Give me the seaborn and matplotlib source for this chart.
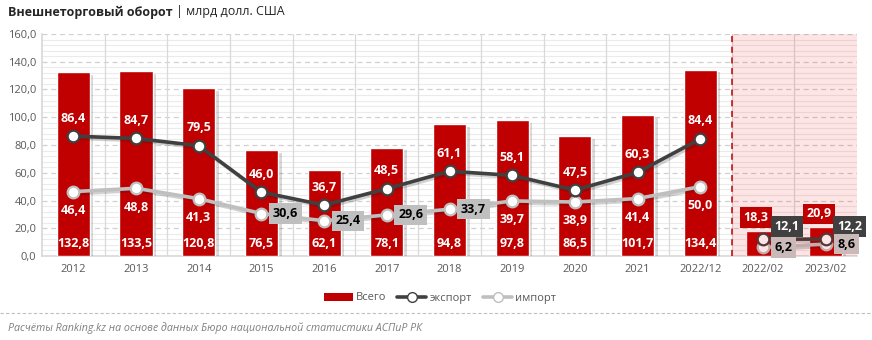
import numpy as np
import pandas as pd
import matplotlib
matplotlib.use("Agg")
import matplotlib.pyplot as plt
import matplotlib.patheffects as pe
from matplotlib.lines import Line2D
from matplotlib.patches import Patch
from matplotlib.ticker import MultipleLocator, FuncFormatter
import seaborn as sns

# Data: foreign trade turnover of Kazakhstan, bn USD
periods = ["2012", "2013", "2014", "2015", "2016", "2017", "2018", "2019",
           "2020", "2021", "2022/12", "2022/02", "2023/02"]
total = [132.8, 133.5, 120.8, 76.5, 62.1, 78.1, 94.8, 97.8, 86.5, 101.7, 134.4, 18.3, 20.9]
export = [86.4, 84.7, 79.5, 46.0, 36.7, 48.5, 61.1, 58.1, 47.5, 60.3, 84.4, 12.1, 12.2]
imports = [46.4, 48.8, 41.3, 30.6, 25.4, 29.6, 33.7, 39.7, 38.9, 41.4, 50.0, 6.2, 8.6]

sns.set_theme(style="white")
plt.rcParams["font.family"] = ["Open Sans", "DejaVu Sans"]

RED = "#C00000"
DARK = "#404040"
LIGHT = "#BFBFBF"
TXT = "#595959"

df = pd.DataFrame({"period": periods, "total": total, "export": export, "import": imports})
df["x"] = np.arange(len(df))

fig = plt.figure(figsize=(8.72, 3.40), dpi=100)
ax = fig.add_axes([42 / 872, 1 - 256 / 340, (857 - 42) / 872, (256 - 34) / 340])

# bars with a soft drop shadow
sns.barplot(data=df, x="period", y="total", color=RED, width=0.53, saturation=1,
            ax=ax, zorder=3)
for p in ax.patches:
    p.set_path_effects([pe.SimplePatchShadow(offset=(2.5, -2), shadow_rgbFace="#000000",
                                             alpha=0.15), pe.Normal()])

n = len(df)
ax.set_xlim(-0.5, n - 0.5)
ax.set_ylim(0, 160)

# grid
ax.yaxis.set_major_locator(MultipleLocator(20))
ax.grid(False)
for y in np.arange(4, 160, 4):
    if y % 20:
        ax.axhline(y, color="#EBEBEB", lw=0.8, zorder=0)
for y in np.arange(20, 161, 20):
    ax.axhline(y, color="#D0D0D0", lw=0.9, ls=(0, (4, 3)), zorder=0.5)
for xb in np.arange(0.5, n - 0.5, 1):
    ax.axvline(xb, color="#D9D9D9", lw=0.9, zorder=0.5)

# annual data and the two-month comparison are drawn as separate segments
hist = df.iloc[:11]
recent = df.iloc[11:]

def draw_line(sub, col, color):
    ax.plot(sub["x"], sub[col], color=color, lw=2.6, zorder=4,
            path_effects=[pe.SimpleLineShadow(offset=(1.5, -1.5), alpha=0.2), pe.Normal()])
    ax.scatter(sub["x"], sub[col], s=70, facecolor="white", edgecolor=color,
               linewidth=1.6, zorder=5)

draw_line(hist, "import", LIGHT)
draw_line(recent, "import", LIGHT)
draw_line(hist, "export", DARK)
draw_line(recent, "export", DARK)

# pink highlight over the two-month period
ax.axvspan(10.5, n - 0.5, color="#F00000", alpha=0.1, lw=0, zorder=6)
ax.axvline(10.5, color=RED, lw=1.1, ls=(0, (4, 3)), zorder=7)

fmt = lambda v: f"{v:.1f}".replace(".", ",")
bold = dict(fontsize=9, fontweight="bold", ha="center", va="center", zorder=10)
box = lambda c: dict(boxstyle="square,pad=0.3", fc=c, ec="none")

for i, r in df.iterrows():
    x = r["x"]
    if i <= 10:
        ax.text(x, 9.2, fmt(r["total"]), color="white", **bold)
        ax.text(x, r["export"] + 13, fmt(r["export"]), color="white", **bold)
        if i in (3, 4, 5, 6):
            ax.text(x + 0.38, r["import"], fmt(r["import"]), color="black",
                    bbox=box(LIGHT), **bold)
        else:
            ax.text(x, r["import"] - 13.5, fmt(r["import"]), color="white", **bold)
    else:
        ax.text(x - 0.11, r["total"] + 9.5, fmt(r["total"]), color="white",
                bbox=box(RED), **bold)
        ax.text(x + 0.38, r["export"] + 9, fmt(r["export"]), color="white",
                bbox=box(DARK), **bold)
        ax.text(x + 0.33, r["import"], fmt(r["import"]), color="black",
                bbox=box("#C9B9B9"), **bold)

ax.yaxis.set_major_formatter(FuncFormatter(lambda v, _: fmt(v)))
ax.tick_params(axis="y", labelsize=8, colors=TXT, length=0, pad=4)
ax.tick_params(axis="x", labelsize=8, colors=TXT, length=0, pad=6)
ax.set_xlabel("")
ax.set_ylabel("")
for s in ["top", "right"]:
    ax.spines[s].set_visible(False)
ax.spines["left"].set_color("#D9D9D9")
ax.spines["bottom"].set_color("#D9D9D9")

# legend
handles = [
    Patch(facecolor=RED, edgecolor="none", label="Всего"),
    Line2D([0], [0], color=DARK, lw=2.6, marker="o", markersize=7,
           markerfacecolor="white", markeredgecolor=DARK, label="экспорт"),
    Line2D([0], [0], color=LIGHT, lw=2.6, marker="o", markersize=7,
           markerfacecolor="white", markeredgecolor=LIGHT, label="импорт"),
]
fig.legend(handles=handles, loc="center", bbox_to_anchor=(440 / 872, 1 - 298 / 340),
           ncol=3, frameon=False, fontsize=8, handlelength=2.6, handletextpad=0.3,
           columnspacing=1.0, labelcolor=TXT)

# title
t1 = fig.text(8 / 872, 1 - 12 / 340, "Внешнеторговый оборот", fontsize=9,
              fontweight="bold", color="#262626", va="center", ha="left")
fig.canvas.draw()
bb = t1.get_window_extent()
fig.text(bb.x1 / 872 + 0.004, 1 - 12 / 340, "| млрд долл. США", fontsize=9,
         color="#262626", va="center", ha="left")

# footer
fig.add_artist(Line2D([0, 1], [1 - 313 / 340] * 2, color="#BFBFBF", lw=0.8,
                      ls=(0, (3, 2)), transform=fig.transFigure))
fig.text(8 / 872, 1 - 328 / 340,
         "Расчёты Ranking.kz на основе данных Бюро национальной статистики АСПиР РК",
         fontsize=7.7, style="italic", color="#7F7F7F", va="center", ha="left")

fig.savefig("out.png", dpi=100, facecolor="white")
